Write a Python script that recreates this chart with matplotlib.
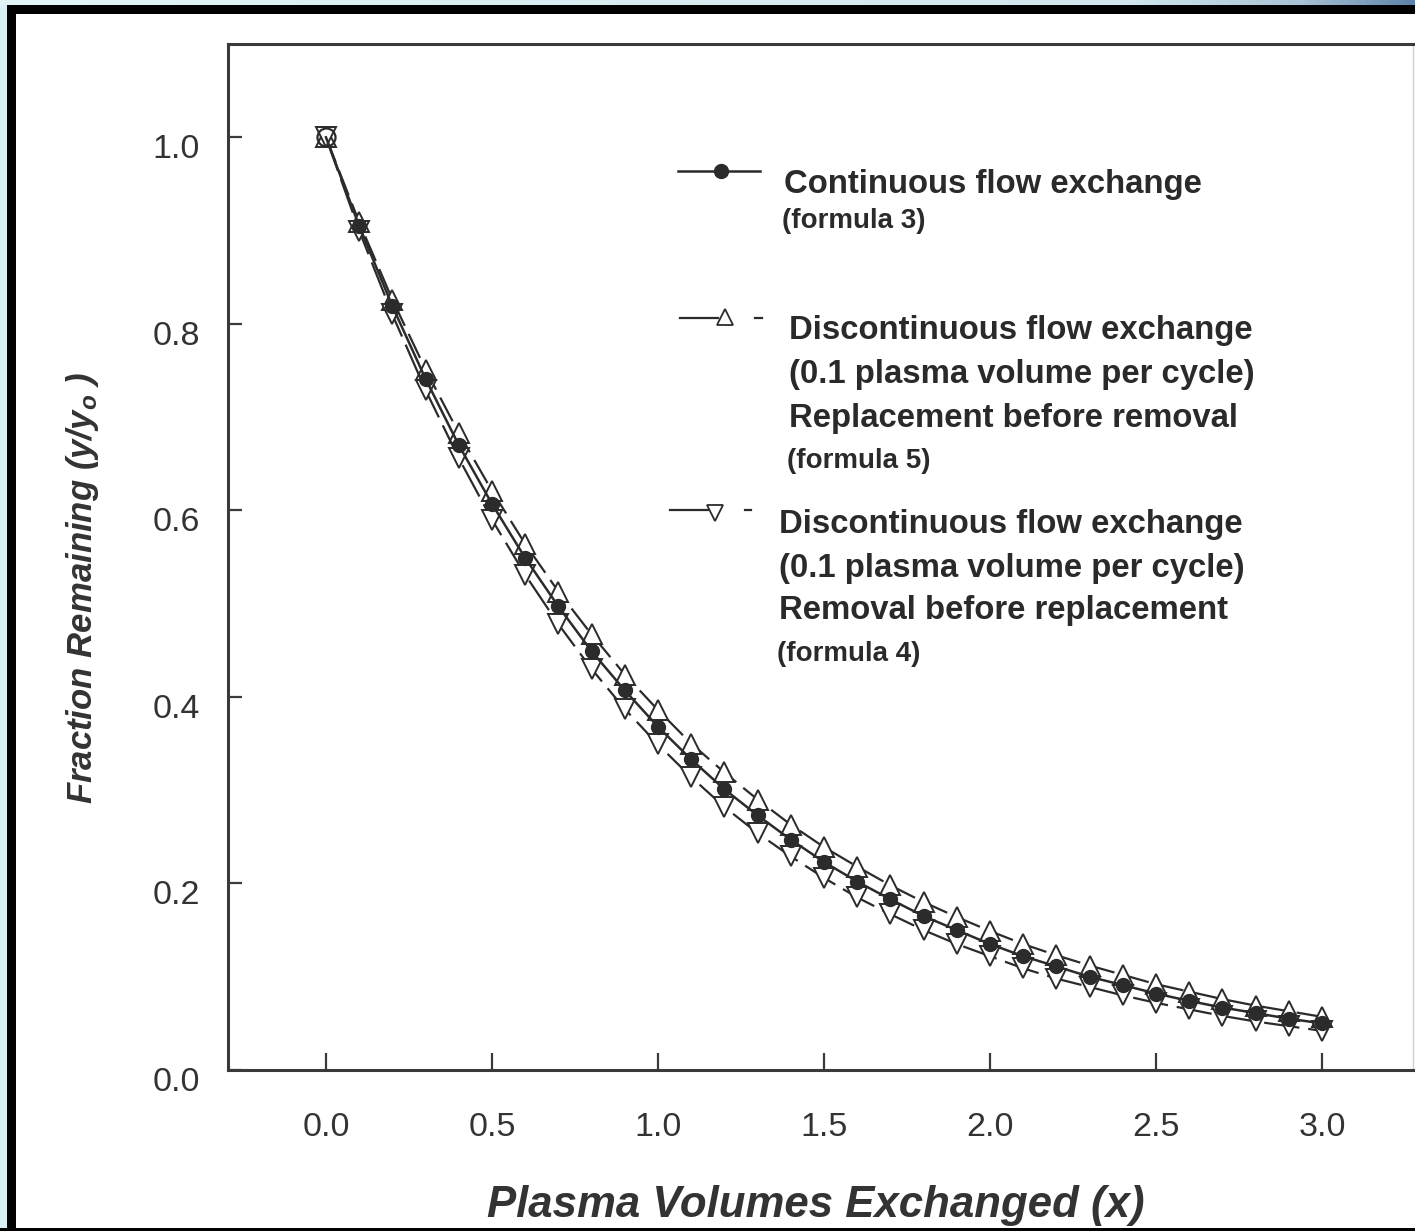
import matplotlib
matplotlib.use("Agg")
import matplotlib.pyplot as plt
import numpy as np
from matplotlib.patches import Rectangle
from matplotlib.lines import Line2D
from matplotlib.transforms import ScaledTranslation
from matplotlib.colors import LinearSegmentedColormap

# ---------------- data ----------------
plasma_volumes = [0.0, 0.1, 0.2, 0.3, 0.4, 0.5, 0.6, 0.7, 0.8, 0.9, 1.0,
                  1.1, 1.2, 1.3, 1.4, 1.5, 1.6, 1.7, 1.8, 1.9, 2.0,
                  2.1, 2.2, 2.3, 2.4, 2.5, 2.6, 2.7, 2.8, 2.9, 3.0]
continuous_flow = [1.000, 0.905, 0.819, 0.741, 0.670, 0.607, 0.549, 0.497, 0.449, 0.407, 0.368,
                   0.333, 0.301, 0.273, 0.247, 0.223, 0.202, 0.183, 0.165, 0.150, 0.135,
                   0.122, 0.111, 0.100, 0.091, 0.082, 0.074, 0.067, 0.061, 0.055, 0.050]
replacement_before_removal = [1.000, 0.909, 0.826, 0.751, 0.683, 0.621, 0.564, 0.513, 0.467, 0.424, 0.386,
                              0.350, 0.319, 0.290, 0.263, 0.239, 0.218, 0.198, 0.180, 0.164, 0.149,
                              0.135, 0.123, 0.112, 0.102, 0.092, 0.084, 0.076, 0.069, 0.063, 0.057]
removal_before_replacement = [1.000, 0.900, 0.810, 0.729, 0.656, 0.590, 0.531, 0.478, 0.430, 0.387, 0.349,
                              0.314, 0.282, 0.254, 0.229, 0.206, 0.185, 0.167, 0.150, 0.135, 0.122,
                              0.109, 0.098, 0.089, 0.080, 0.072, 0.065, 0.058, 0.052, 0.047, 0.042]
x_ticks = [0.0, 0.5, 1.0, 1.5, 2.0, 2.5, 3.0]
x_tick_labels = ["0.0", "0.5", "1.0", "1.5", "2.0", "2.5", "3.0"]
y_ticks = [0.0, 0.2, 0.4, 0.6, 0.8, 1.0]
y_tick_labels = ["0.0", "0.2", "0.4", "0.6", "0.8", "1.0"]

x_label = "Plasma Volumes Exchanged (x)"
y_label = r"Fraction Remaining (y/y$_{\mathrm{o}}$ )"
legend_blocks = [
    (["Continuous flow exchange"], "(formula 3)"),
    (["Discontinuous flow exchange", "(0.1 plasma volume per cycle)", "Replacement before removal"], "(formula 5)"),
    (["Discontinuous flow exchange", "(0.1 plasma volume per cycle)", "Removal before replacement"], "(formula 4)"),
]

# ---------------- styling ----------------
plt.rcParams["font.family"] = ["Liberation Sans", "DejaVu Sans"]
plt.rcParams["mathtext.fontset"] = "custom"
plt.rcParams["mathtext.rm"] = "Liberation Sans:bold:italic"
plt.rcParams["mathtext.it"] = "Liberation Sans:bold:italic"
plt.rcParams["mathtext.bf"] = "Liberation Sans:bold:italic"

W, H, DPI = 1415, 1231, 100
INK = "#2b2b2b"

def fx(px):
    return px / W

def fy(py):
    return 1 - py / H

fig = plt.figure(figsize=(W / DPI, H / DPI), dpi=DPI)
fig.patch.set_facecolor("black")

# page (scanned sheet) and frame
fig.add_artist(Rectangle((fx(16), fy(1228)), 1 - fx(16), fy(14) - fy(1228),
                         transform=fig.transFigure, facecolor="white",
                         edgecolor="none", zorder=-10))
fig.add_artist(Rectangle((0, 0), fx(7), 1, transform=fig.transFigure,
                         facecolor="#d9f0f2", edgecolor="none", zorder=-9))
ax_top = fig.add_axes([0, fy(5), 1, 5 / H], zorder=-8)
grad = np.linspace(0, 1, 512).reshape(1, -1)
cmap_top = LinearSegmentedColormap.from_list(
    "strip", [(0, "#e2f4f6"), (0.8, "#cfe7ec"), (0.92, "#a9c3d6"), (1, "#5d84ab")])
ax_top.imshow(grad, aspect="auto", cmap=cmap_top)
ax_top.set_axis_off()

# ---------------- main axes ----------------
ax = fig.add_axes([fx(228), fy(1070), fx(1413) - fx(228), fy(44) - fy(1070)])
ax.set_facecolor("none")
ax.set_xlim(-0.295, 3.274)
ax.set_ylim(0, 1.1)

for side in ["left", "bottom", "top"]:
    ax.spines[side].set_color("#3a3a3a")
    ax.spines[side].set_linewidth(2.2)
ax.spines["right"].set_color("#d0d0d0")
ax.spines["right"].set_linewidth(1.0)

ax.set_xticks(x_ticks)
ax.set_xticklabels(x_tick_labels)
ax.set_yticks(y_ticks)
ax.set_yticklabels(y_tick_labels)
ax.tick_params(axis="both", direction="in", width=1.6, color="#3a3a3a",
               labelsize=24.5, labelcolor="#333333")
ax.tick_params(axis="x", length=12, pad=30)
ax.tick_params(axis="y", length=10, pad=20)
for lab in ax.get_yticklabels():
    lab.set_transform(lab.get_transform() + ScaledTranslation(0, -9 / DPI, fig.dpi_scale_trans))

# series
ax.plot(plasma_volumes, replacement_before_removal, color=INK, lw=1.6,
        linestyle=(0, (12, 4)), marker="^", markersize=14.5,
        markerfacecolor="white", markeredgecolor=INK, markeredgewidth=1.4, zorder=3)
ax.plot(plasma_volumes, removal_before_replacement, color=INK, lw=1.6,
        linestyle=(0, (16, 4)), marker="v", markersize=14.5,
        markerfacecolor="white", markeredgecolor=INK, markeredgewidth=1.4, zorder=3)
ax.plot(plasma_volumes, continuous_flow, color=INK, lw=1.8, zorder=4)
ax.plot(plasma_volumes[1:], continuous_flow[1:], linestyle="none", marker="o",
        markersize=10, color=INK, zorder=5)
ax.plot(plasma_volumes[:1], continuous_flow[:1], linestyle="none", marker="o",
        markersize=13, markerfacecolor="none", markeredgecolor=INK,
        markeredgewidth=1.6, zorder=5)

# ---------------- legend (drawn manually) ----------------
def key(xs, ys, **kw):
    fig.add_artist(Line2D([fx(v) for v in xs], [fy(v) for v in ys],
                          transform=fig.transFigure, **kw))

key([678, 760], [171, 171], color=INK, lw=1.8)
key([721], [171], marker="o", markersize=10, color=INK, linestyle="none")
key([680, 718], [318, 318], color=INK, lw=1.6)
key([725], [317], marker="^", markersize=11, markerfacecolor="white",
    markeredgecolor=INK, markeredgewidth=1.3, linestyle="none")
key([755, 762], [318, 318], color=INK, lw=1.6)
key([670, 708], [510, 510], color=INK, lw=1.6)
key([715], [513], marker="v", markersize=11, markerfacecolor="white",
    markeredgecolor=INK, markeredgewidth=1.3, linestyle="none")
key([745, 751], [510, 510], color=INK, lw=1.6)

block_layout = [
    (784, [184], 221),
    (789, [331, 375, 418], 461),
    (779, [524, 568, 611], 654),
]
for (lines, formula), (x0, ys, yf) in zip(legend_blocks, block_layout):
    for text, yy in zip(lines, ys):
        fig.text(fx(x0), fy(yy), text, fontsize=23.7, fontweight="bold",
                 color="#2a2a2a", ha="left", va="center")
    fig.text(fx(x0 - 2), fy(yf), formula, fontsize=20, fontweight="bold",
             color="#2a2a2a", ha="left", va="center")

# ---------------- axis labels ----------------
fig.text(fx(83), fy(588), y_label, rotation=90, fontsize=25,
         fontweight="bold", fontstyle="italic", color="#333333",
         ha="center", va="center")
fig.text(fx(487), fy(1217), x_label, fontsize=31.5, fontweight="bold",
         fontstyle="italic", color="#333333", ha="left", va="baseline")

# bottom frame bar
fig.add_artist(Rectangle((0, 0), 1, fy(1228), transform=fig.transFigure,
                         facecolor="black", edgecolor="none", zorder=20))

fig.savefig("out.png", dpi=DPI, facecolor=fig.get_facecolor())
